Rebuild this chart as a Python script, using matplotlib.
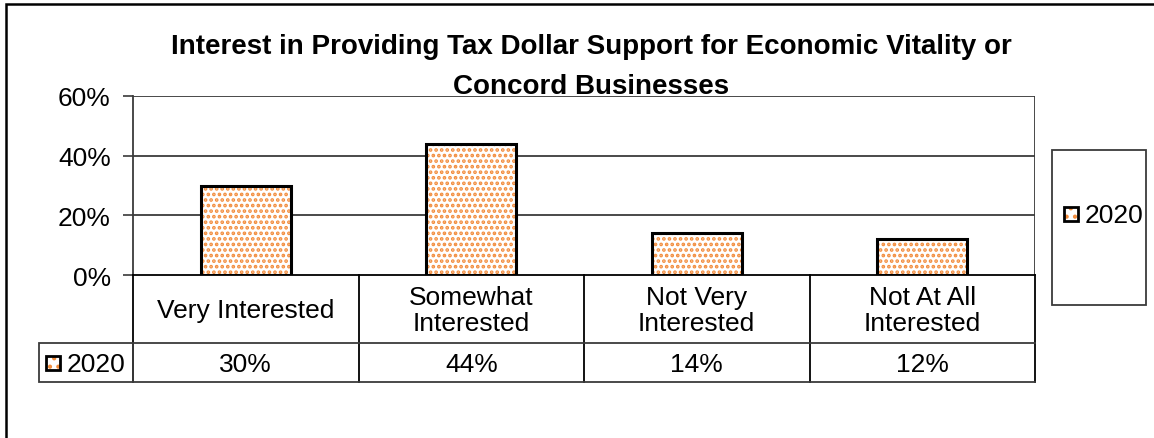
import numpy as np
import matplotlib
matplotlib.use('Agg')
import matplotlib.pyplot as plt
from matplotlib.patches import Rectangle

plt.rcParams['font.family'] = ['Liberation Sans', 'DejaVu Sans']
plt.rcParams['hatch.linewidth'] = 1.8

categories = ['Very Interested', 'Somewhat\nInterested', 'Not Very\nInterested', 'Not At All\nInterested']
series_name = '2020'
values = [30, 44, 14, 12]
yticks = [0, 20, 40, 60]
title = 'Interest in Providing Tax Dollar Support for Economic Vitality or\nConcord Businesses'

W, H = 1154, 439
orange = '#F28C3C'
grid_c = '#3a3a3a'
fs = 19


def fx(px):
    return px / W


def fy(py):
    return 1 - py / H


fig = plt.figure(figsize=(W / 100, H / 100), dpi=100)

# outer chart frame (runs off the right and bottom edges)
fig.patches.append(Rectangle((fx(6), fy(460)), fx(1170) - fx(6), fy(5) - fy(460),
                             transform=fig.transFigure, fill=False, ec='black', lw=1.8))

# plot area
x0, x1, ytop, ybot = 133, 1035, 97, 276
ax = fig.add_axes([fx(x0), fy(ybot), fx(x1) - fx(x0), fy(ytop) - fy(ybot)])
x = np.arange(len(values))
ax.set_xlim(-0.5, len(values) - 0.5)
ax.set_ylim(0, 60)
for v in yticks[1:]:
    ax.axhline(v, color=grid_c, lw=1.3, zorder=0)
ax.bar(x, values, width=0.4, color='white', edgecolor=orange, hatch='...', lw=0, zorder=2)
ax.bar(x, values, width=0.4, fill=False, edgecolor='black', lw=2.2, zorder=3)

ax.set_yticks(yticks)
ax.set_yticklabels([f'{v}%' for v in yticks], fontsize=fs)
ax.tick_params(axis='y', length=7, width=1.2, color=grid_c, pad=9)
ax.set_xticks([])
for s in ['top', 'right']:
    ax.spines[s].set_visible(False)
ax.spines['left'].set_color(grid_c)
ax.spines['left'].set_linewidth(1.3)
ax.spines['bottom'].set_color('black')
ax.spines['bottom'].set_linewidth(1.3)
ax.axvline(len(values) - 0.5, color=grid_c, lw=1.3)

fig.text(fx(591), fy(67), title, ha='center', va='center', fontsize=20,
         fontweight='bold', linespacing=1.65)

# data table under the plot
trow, mrow, brow = 276, 344, 383
tax = fig.add_axes([fx(x0), fy(brow), fx(x1) - fx(x0), fy(trow) - fy(brow)])
tax.set_xlim(-0.5, len(values) - 0.5)
tax.set_ylim(0, brow - trow)
tax.invert_yaxis()
tax.axis('off')
for b in np.arange(len(values) + 1) - 0.5:
    tax.plot([b, b], [0, brow - trow], color='black', lw=1.3, clip_on=False)
tax.plot([-0.5, len(values) - 0.5], [mrow - trow, mrow - trow], color=grid_c, lw=1.3, clip_on=False)
tax.plot([-0.5, len(values) - 0.5], [brow - trow, brow - trow], color=grid_c, lw=1.3, clip_on=False)
for i, (c, v) in enumerate(zip(categories, values)):
    tax.text(i, (mrow - trow) / 2 + 1, c, ha='center', va='center', fontsize=fs, linespacing=1.08)
    tax.text(i, (mrow - trow + brow - trow) / 2 + 1, f'{v}%', ha='center', va='center', fontsize=fs)

# row header cell
fig.patches.append(Rectangle((fx(39), fy(brow)), fx(x0) - fx(39), fy(mrow) - fy(brow),
                             transform=fig.transFigure, fill=False, ec=grid_c, lw=1.3))


def key(px, py):
    fig.patches.append(Rectangle((fx(px), fy(py + 14)), fx(14), 14 / H, transform=fig.transFigure,
                                 fc='white', ec=orange, hatch='..', lw=0))
    fig.patches.append(Rectangle((fx(px), fy(py + 14)), fx(14), 14 / H, transform=fig.transFigure,
                                 fill=False, ec='black', lw=2))


key(46, 357)
fig.text(fx(67), fy(365), series_name, ha='left', va='center', fontsize=fs)

# legend box
fig.patches.append(Rectangle((fx(1052), fy(306)), fx(1146) - fx(1052), fy(151) - fy(306),
                             transform=fig.transFigure, fill=False, ec=grid_c, lw=1.3))
key(1064, 208)
fig.text(fx(1085), fy(216), series_name, ha='left', va='center', fontsize=fs)

fig.savefig('out.png', dpi=100)
